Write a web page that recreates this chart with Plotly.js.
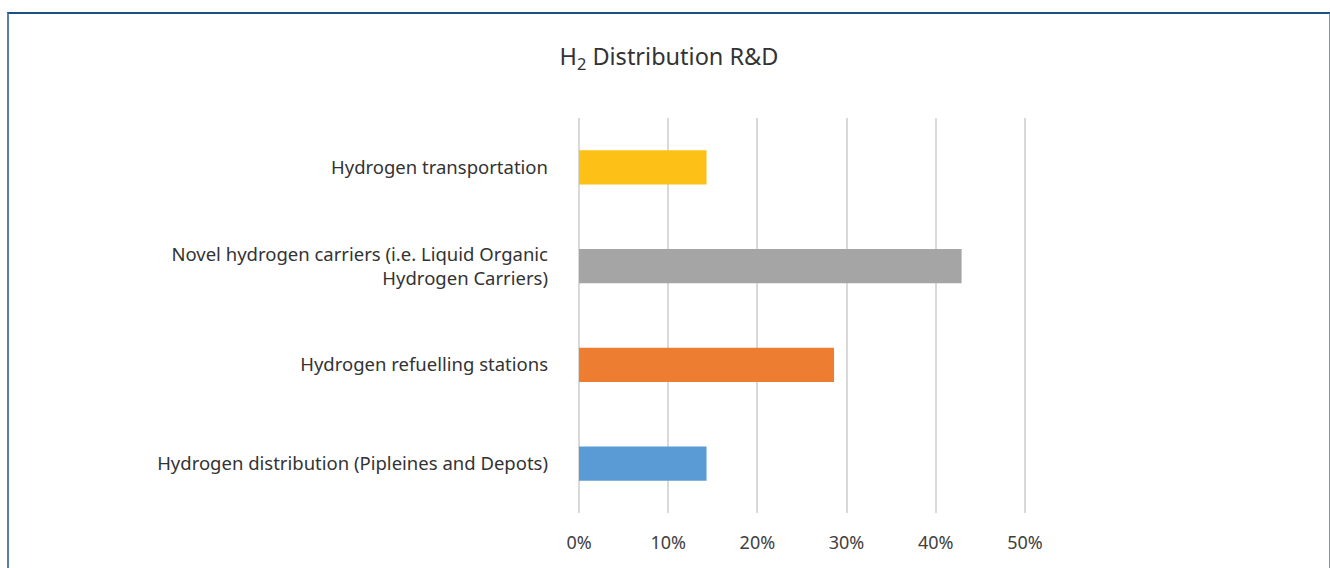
<!DOCTYPE html>
<html>
<head>
<meta charset="utf-8">
<script src="https://cdn.plot.ly/plotly-3.0.1.min.js"></script>
<style>
html,body{margin:0;padding:0;background:#fff;}
#wrap{position:relative;width:1330px;height:568px;overflow:hidden;}
#chart{width:1330px;height:568px;}
#frame{position:absolute;left:7px;top:12px;width:1320px;height:600px;border-top:2px solid #1c4f86;border-left:2px solid #5a7fa6;border-right:2px solid #7f93a8;pointer-events:none;}
</style>
</head>
<body>
<div id="wrap"><div id="chart"></div><div id="frame"></div></div>
<script>
const categories = [
  "Hydrogen distribution (Pipleines and Depots)",
  "Hydrogen refuelling stations",
  "Novel hydrogen carriers (i.e. Liquid Organic<br>Hydrogen Carriers)",
  "Hydrogen transportation"
];
const values = [0.143, 0.286, 0.429, 0.143];
const barColors = ["#5b9bd5", "#ed7d31", "#a5a5a5", "#fcc016"];
const xTickVals = [0, 0.1, 0.2, 0.3, 0.4, 0.5];
const xTickText = ["0%", "10%", "20%", "30%", "40%", "50%"];

const font = "Noto Sans, Open Sans, sans-serif";

Plotly.newPlot("chart", [{
  type: "bar",
  orientation: "h",
  y: categories,
  x: values,
  width: 0.345,
  marker: {color: barColors, line: {width: 0}},
  hoverinfo: "skip"
}], {
  width: 1330,
  height: 568,
  margin: {l: 579, r: 304, t: 118, b: 55, pad: 0},
  paper_bgcolor: "#ffffff",
  plot_bgcolor: "#ffffff",
  showlegend: false,
  title: {
    text: "H<sub>2</sub> Distribution R&amp;D",
    font: {family: font, size: 23.5, color: "#333333"},
    x: 0.503, xref: "container", xanchor: "center",
    y: 0.9, yref: "container", yanchor: "middle"
  },
  xaxis: {
    range: [0, 0.5012],
    tickvals: xTickVals,
    ticktext: xTickText,
    showgrid: true,
    gridcolor: "#d9d9d9",
    gridwidth: 2,
    zeroline: true,
    zerolinecolor: "#d9d9d9",
    zerolinewidth: 2,
    showline: false,
    ticks: "",
    ticklabelstandoff: 17,
    tickfont: {family: font, size: 18, color: "#404040"},
    fixedrange: true
  },
  yaxis: {
    type: "category",
    categoryorder: "array",
    categoryarray: categories,
    range: [-0.5, 3.5],
    showgrid: false,
    zeroline: false,
    showline: false,
    ticks: "",
    ticklabelstandoff: 30,
    tickfont: {family: font, size: 18.5, color: "#333333"},
    fixedrange: true
  }
}, {displayModeBar: false, staticPlot: true});
</script>
</body>
</html>
